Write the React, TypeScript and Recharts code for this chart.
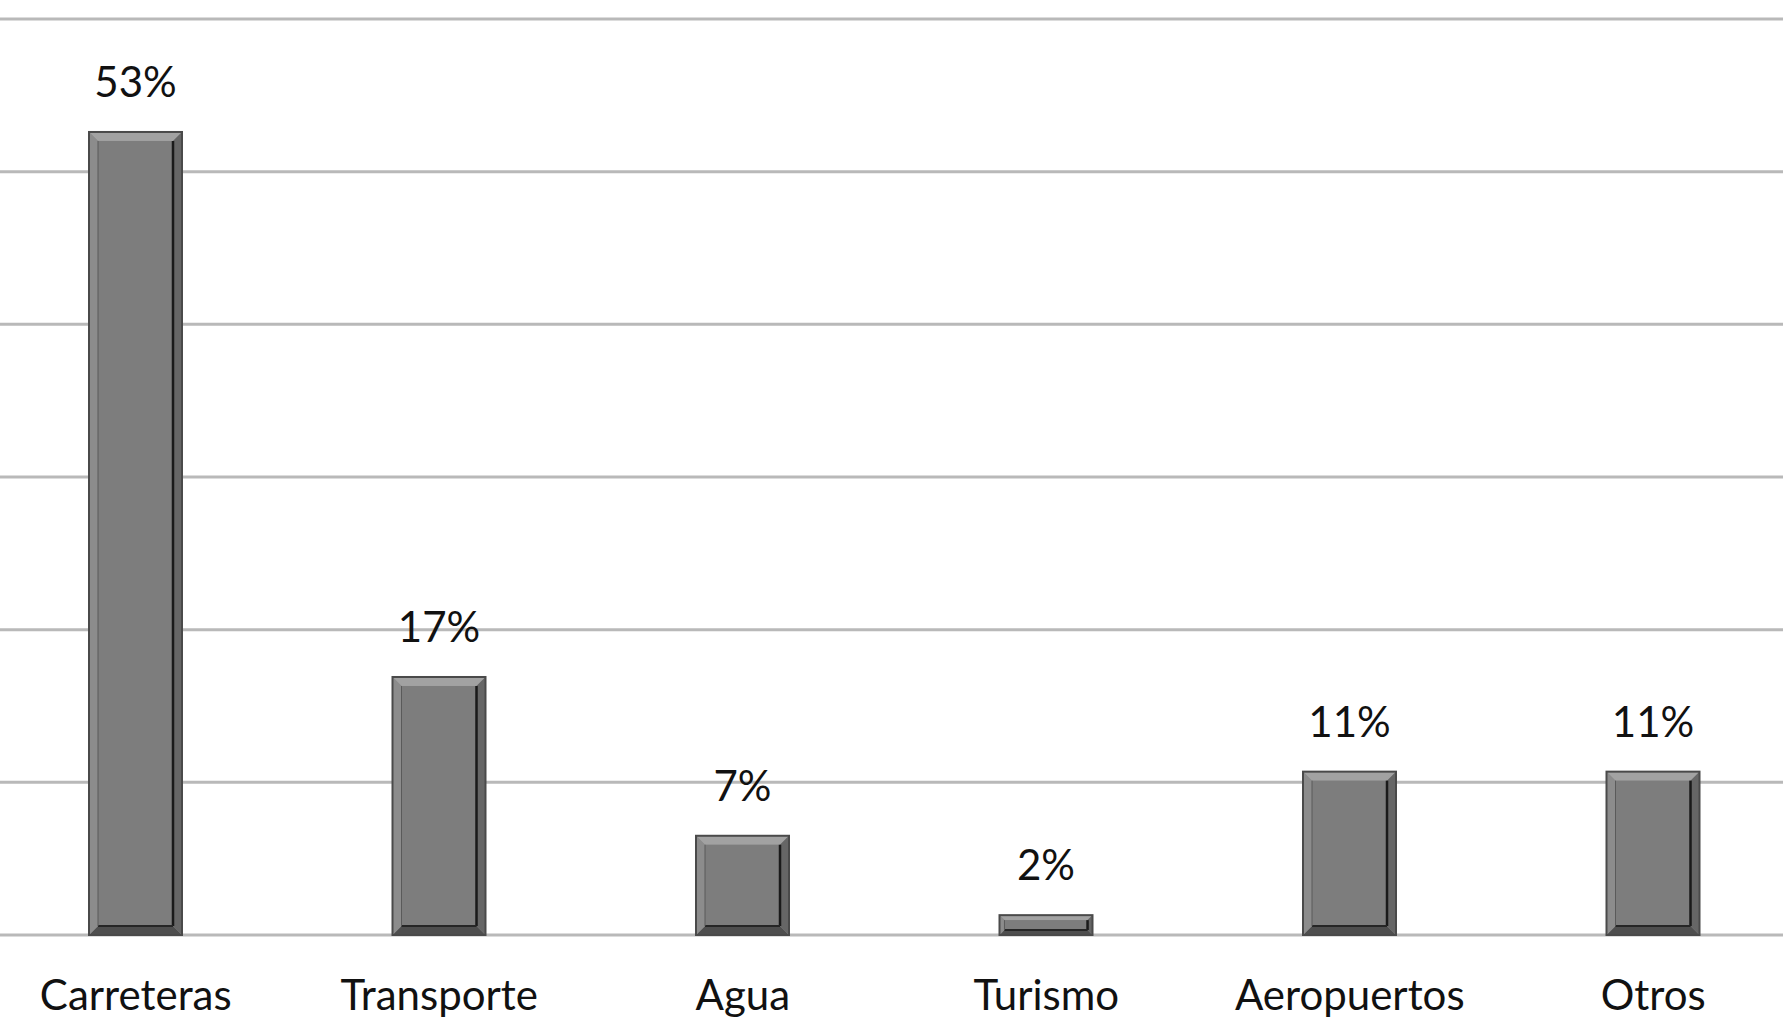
import React from "react";
import { BarChart, Bar, XAxis, YAxis, CartesianGrid, LabelList } from "recharts";

const categories = ["Carreteras", "Transporte", "Agua", "Turismo", "Aeropuertos", "Otros"];
const shares = [52.6, 16.9, 6.5, 1.3, 10.7, 10.7];
const shareLabels = ["53%", "17%", "7%", "2%", "11%", "11%"];
const yTicks = [0, 10, 20, 30, 40, 50, 60];

const data = categories.map((c, i) => ({ name: c, value: shares[i], label: shareLabels[i] }));

const FONT = "Lato, 'Open Sans', sans-serif";

const BevelBar = (props: any) => {
  const { x, y, width, height } = props;
  if (!(height > 0)) return null;
  const inset = Math.min(9, Math.max(2, height / 4));
  const ix = x + inset;
  const iy = y + inset;
  const iw = Math.max(0, width - inset * 2);
  const ih = Math.max(0, height - inset * 2);
  return (
    <g>
      <rect x={x} y={y} width={width} height={height} fill="#8a8a8a" />
      <polygon points={`${x},${y} ${x + width},${y} ${ix + iw},${iy} ${ix},${iy}`} fill="#a2a2a2" />
      <polygon points={`${x},${y + height} ${x + width},${y + height} ${ix + iw},${iy + ih} ${ix},${iy + ih}`} fill="#4e4e4e" />
      <polygon points={`${x + width},${y} ${x + width},${y + height} ${ix + iw},${iy + ih} ${ix + iw},${iy}`} fill="#666666" />
      <polygon points={`${x},${y} ${x},${y + height} ${ix},${iy + ih} ${ix},${iy}`} fill="#8c8c8c" />
      <rect x={ix} y={iy} width={iw} height={ih} fill="#7d7d7d" />
      <line x1={ix + iw} y1={iy} x2={ix + iw} y2={iy + ih} stroke="#1a1a1a" strokeWidth={2.5} />
      <line x1={ix} y1={iy + ih} x2={ix + iw} y2={iy + ih} stroke="#262626" strokeWidth={2} />
      <line x1={ix} y1={iy} x2={ix} y2={iy + ih} stroke="#5a5a5a" strokeWidth={1} />
      <rect x={x} y={y} width={width} height={height} fill="none" stroke="#4a4a4a" strokeWidth={2} />
    </g>
  );
};

export default function App() {
  return (
    <div style={{ position: "absolute", left: 0, top: 0, width: 1783, height: 1019, overflow: "hidden", background: "#ffffff" }}>
      <div style={{ position: "absolute", left: -16.5, top: 0 }}>
        <BarChart
          width={1821}
          height={1019}
          data={data}
          margin={{ top: 19, right: 0, bottom: 0, left: 0 }}
          barCategoryGap={0}
        >
          <CartesianGrid vertical={false} stroke="#b9b9b9" strokeWidth={3} />
          <YAxis hide domain={[0, 60]} ticks={yTicks} />
          <XAxis
            dataKey="name"
            axisLine={false}
            tickLine={false}
            tickSize={0}
            tickMargin={45}
            height={84}
            interval={0}
            tick={{ fontFamily: FONT, fontSize: 42, fill: "#111111" }}
          />
          <Bar dataKey="value" barSize={93} shape={<BevelBar />} isAnimationActive={false}>
            <LabelList
              dataKey="label"
              position="top"
              offset={35}
              style={{ fontFamily: FONT, fontSize: 42, fill: "#111111" }}
            />
          </Bar>
        </BarChart>
      </div>
    </div>
  );
}
